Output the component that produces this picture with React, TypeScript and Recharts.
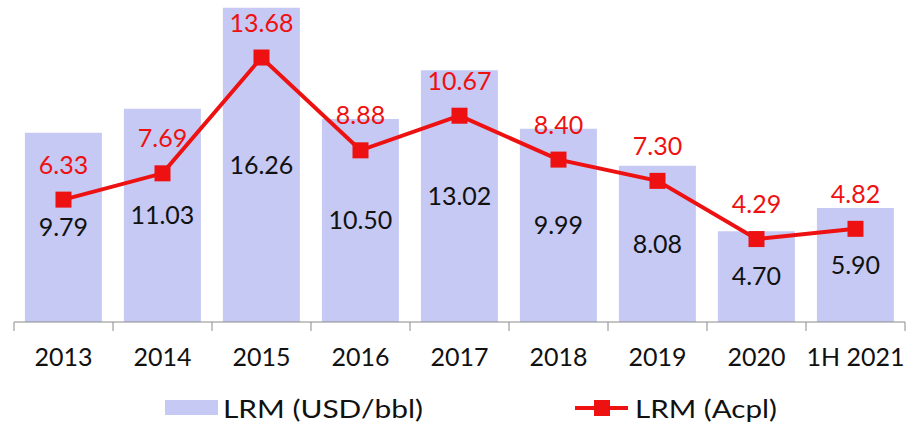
import { ComposedChart, Bar, Line, XAxis, YAxis, LabelList, Legend } from 'recharts';

const years = ["2013", "2014", "2015", "2016", "2017", "2018", "2019", "2020", "1H 2021"];
const lrmUsd = [9.79, 11.03, 16.26, 10.5, 13.02, 9.99, 8.08, 4.7, 5.9];
const lrmAcpl = [6.33, 7.69, 13.68, 8.88, 10.67, 8.4, 7.3, 4.29, 4.82];

const data = years.map((year, i) => ({ year, usd: lrmUsd[i], acpl: lrmAcpl[i] }));

const FONT = "Lato, 'Noto Sans', sans-serif";
const BAR_COLOR = "#c5c9f4";
const RED = "#ee1111";
const BAND = 891 / years.length;

const YearTick = (props: any) => {
  const { x, y, payload, index } = props;
  const left = x - BAND / 2;
  const right = x + BAND / 2;
  return (
    <g>
      <line x1={left} y1={y} x2={left} y2={y + 9} stroke="#8a8a8a" strokeWidth={1} />
      {index === years.length - 1 && (
        <line x1={right} y1={y} x2={right} y2={y + 9} stroke="#8a8a8a" strokeWidth={1} />
      )}
      <text x={x} y={y + 34} textAnchor="middle" dominantBaseline="central" fill="#111" fontSize={25} fontFamily={FONT}>
        {payload.value}
      </text>
    </g>
  );
};

const SquareDot = (props: any) => {
  const { cx, cy } = props;
  if (cx == null || cy == null) return null;
  return <rect x={cx - 8} y={cy - 8} width={16} height={16} fill={RED} />;
};

const RedLabel = (props: any) => {
  const { x, y, value } = props;
  return (
    <text x={x} y={y - 36} textAnchor="middle" dominantBaseline="central" fill={RED} fontSize={25} fontFamily={FONT}>
      {Number(value).toFixed(2)}
    </text>
  );
};

const LegendContent = () => (
  <div style={{ height: 40, position: 'relative', fontFamily: FONT, fontSize: 25, color: '#111' }}>
    <svg width={910} height={40} style={{ position: 'absolute', left: -14, top: 0 }}>
      <rect x={165} y={14} width={53} height={15} fill={BAR_COLOR} />
      <text x={223} y={22} dominantBaseline="central" fontSize={25} fontFamily={FONT} fill="#111"
        textLength={200} lengthAdjust="spacingAndGlyphs">LRM (USD/bbl)</text>
      <line x1={575} y1={22} x2={628} y2={22} stroke={RED} strokeWidth={4} />
      <rect x={594} y={14} width={16} height={16} fill={RED} />
      <text x={635} y={22} dominantBaseline="central" fontSize={25} fontFamily={FONT} fill="#111"
        textLength={142} lengthAdjust="spacingAndGlyphs">LRM (Acpl)</text>
    </svg>
  </div>
);

export default function App() {
  return (
    <div style={{ position: 'absolute', left: 0, top: 0, width: 910, height: 426, background: '#fff', fontFamily: FONT }}>
      <ComposedChart width={910} height={426} data={data} margin={{ top: 3, right: 5, left: 14, bottom: 0 }} barCategoryGap="11%">
        <XAxis
          dataKey="year"
          axisLine={{ stroke: '#8a8a8a' }}
          tickLine={false}
          tickSize={0}
          tickMargin={0}
          interval={0}
          height={64}
          tick={<YearTick />}
        />
        <YAxis hide domain={[0, 16.5]} />
        <Legend verticalAlign="bottom" height={40} content={<LegendContent />} />
        <Bar dataKey="usd" fill={BAR_COLOR} isAnimationActive={false}>
          <LabelList dataKey="usd" position="center" fill="#111" fontSize={25} fontFamily={FONT} formatter={(v: any) => Number(v).toFixed(2)} />
        </Bar>
        <Line
          dataKey="acpl"
          type="linear"
          stroke={RED}
          strokeWidth={4}
          dot={<SquareDot />}
          activeDot={false}
          isAnimationActive={false}
        >
          <LabelList dataKey="acpl" content={<RedLabel />} />
        </Line>
      </ComposedChart>
    </div>
  );
}
